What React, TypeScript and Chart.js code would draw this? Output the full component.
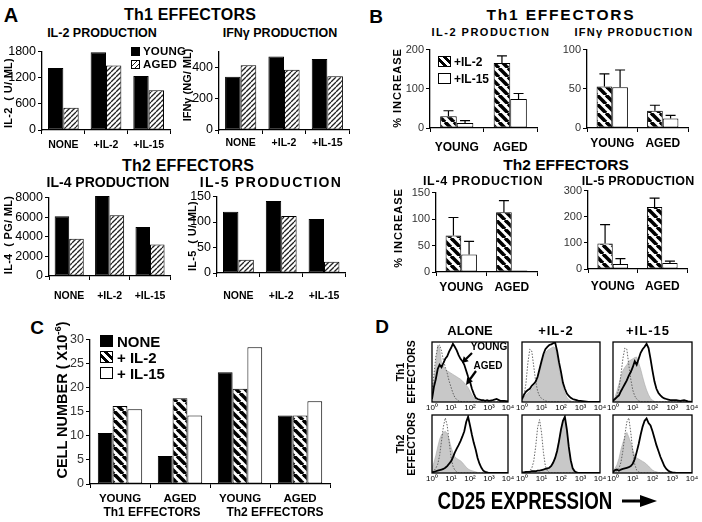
import React, { useEffect, useRef } from 'react';
import { Chart, registerables } from 'chart.js';

Chart.register(...registerables);
const FONT = '"Liberation Sans", Arial, Helvetica, sans-serif';
Chart.defaults.font.family = FONT;

// ---------------- Panel A data ----------------
const A_CATS = ['NONE', '+IL-2', '+IL-15'];
const IL2_YOUNG = [1420, 1780, 1240];
const IL2_AGED = [510, 1480, 910];
const IFN_YOUNG = [339, 468, 452];
const IFN_AGED = [413, 383, 342];
const IL4_YOUNG = [6100, 8150, 5000];
const IL4_AGED = [3800, 6200, 3200];
const IL5_YOUNG = [120, 141, 106];
const IL5_AGED = [26, 112, 22];

// ---------------- Panel B data (% increase) ----------------
const B_CATS = ['YOUNG', 'AGED'];
const B_IL2_WITH_IL2 = [30, 166];
const B_IL2_WITH_IL2_ERR = [14, 18];
const B_IL2_WITH_IL15 = [13, 74];
const B_IL2_WITH_IL15_ERR = [6, 14];
const B_IFN_WITH_IL2 = [53, 22];
const B_IFN_WITH_IL2_ERR = [16, 7];
const B_IFN_WITH_IL15 = [52, 12];
const B_IFN_WITH_IL15_ERR = [22, 4];
const B_IL4_WITH_IL2 = [69, 113];
const B_IL4_WITH_IL2_ERR = [34, 22];
const B_IL4_WITH_IL15 = [33, 3];
const B_IL4_WITH_IL15_ERR = [25, 0];
const B_IL5_WITH_IL2 = [98, 237];
const B_IL5_WITH_IL2_ERR = [72, 34];
const B_IL5_WITH_IL15 = [19, 23];
const B_IL5_WITH_IL15_ERR = [21, 7];

// ---------------- Panel C data ----------------
const C_CATS = ['YOUNG', 'AGED', 'YOUNG', 'AGED'];
const C_NONE = [10.6, 5.8, 23.2, 14.2];
const C_IL2 = [16.2, 17.8, 19.8, 14.2];
const C_IL15 = [15.5, 14.2, 28.4, 17.2];

// ---------------- Panel D data (histograms) ----------------
const D_X = [1, 1.26, 1.58, 2, 2.51, 3.16, 3.98, 5.01, 6.31, 7.94, 10, 12.6, 15.8, 20, 25.1, 31.6, 39.8, 50.1, 63.1, 79.4,
  100, 126, 158, 200, 251, 316, 398, 501, 631, 794, 1000, 1585, 2512, 3981, 6310, 10000];
const D_TICK_VALUES = [1, 10, 100, 1000, 10000];
const D_TICK_LABELS = ['10⁰', '10¹', '10²', '10³', '10⁴'];

const TH1_ALONE_CTRL = [20, 45, 75, 92, 95, 85, 70, 58, 48, 35, 25, 15, 8, 4, 2, 1, 0, 0, 0, 0, 0, 0, 0, 0, 0, 0, 0, 0, 0, 0, 0, 0, 0, 0, 0, 0];
const TH1_ALONE_AGED = [25, 35, 60, 95, 90, 65, 60, 55, 52, 50, 48, 46, 44, 42, 40, 38, 35, 32, 28, 24, 18, 12, 7, 4, 2, 1, 0, 0, 0, 0, 0, 0, 0, 0, 0, 0];
const TH1_ALONE_YOUNG = [5, 25, 38, 55, 62, 58, 65, 72, 76, 84, 90, 97, 92, 86, 78, 72, 68, 62, 52, 42, 34, 22, 14, 7, 5, 4, 3, 3, 2, 3, 2, 3, 5, 2, 2, 1];

const TH1_IL2_CTRL = [3, 10, 30, 65, 88, 85, 60, 35, 18, 10, 6, 4, 2, 1, 0, 0, 0, 0, 0, 0, 0, 0, 0, 0, 0, 0, 0, 0, 0, 0, 0, 0, 0, 0, 0, 0];
const TH1_IL2_AGED = [2, 8, 12, 15, 18, 22, 26, 30, 38, 50, 62, 74, 82, 86, 88, 90, 92, 90, 75, 55, 40, 25, 15, 8, 4, 2, 0, 0, 0, 0, 0, 0, 0, 0, 0, 0];
const TH1_IL2_YOUNG = [5, 12, 17, 20, 22, 27, 30, 34, 42, 55, 68, 80, 88, 92, 95, 96, 98, 99, 85, 66, 50, 32, 22, 14, 10, 7, 5, 4, 3, 2, 2, 1, 0, 0, 0, 0];

const TH1_IL15_CTRL = [2, 4, 10, 22, 45, 72, 90, 88, 62, 38, 20, 10, 5, 2, 0, 0, 0, 0, 0, 0, 0, 0, 0, 0, 0, 0, 0, 0, 0, 0, 0, 0, 0, 0, 0, 0];
const TH1_IL15_AGED = [3, 8, 18, 30, 42, 52, 58, 62, 68, 70, 72, 74, 75, 65, 55, 42, 30, 20, 12, 6, 3, 1, 0, 0, 0, 0, 0, 0, 0, 0, 0, 0, 0, 0, 0, 0];
const TH1_IL15_YOUNG = [2, 5, 8, 11, 18, 24, 30, 36, 44, 50, 58, 68, 62, 72, 82, 88, 92, 97, 90, 72, 52, 34, 22, 15, 11, 8, 6, 5, 4, 3, 3, 3, 2, 3, 1, 0];

const TH2_ALONE_CTRL = [2, 4, 8, 15, 30, 55, 80, 95, 82, 55, 28, 12, 5, 2, 0, 0, 0, 0, 0, 0, 0, 0, 0, 0, 0, 0, 0, 0, 0, 0, 0, 0, 0, 0, 0, 0];
const TH2_ALONE_AGED = [8, 18, 30, 45, 58, 66, 70, 72, 68, 58, 45, 35, 28, 25, 23, 21, 18, 14, 10, 7, 5, 4, 3, 2, 1, 0, 0, 0, 0, 0, 0, 0, 0, 0, 0, 0];
const TH2_ALONE_YOUNG = [1, 2, 3, 4, 5, 6, 7, 9, 12, 16, 20, 27, 35, 42, 48, 55, 63, 72, 88, 97, 82, 66, 52, 40, 26, 16, 9, 4, 2, 1, 0, 0, 0, 0, 0, 0];

const TH2_IL2_CTRL = [0, 0, 1, 2, 4, 8, 20, 45, 78, 92, 70, 35, 12, 4, 1, 0, 0, 0, 0, 0, 0, 0, 0, 0, 0, 0, 0, 0, 0, 0, 0, 0, 0, 0, 0, 0];
const TH2_IL2_AGED = [0, 0, 0, 0, 0, 0, 0, 0, 0, 1, 2, 3, 4, 6, 8, 10, 16, 26, 40, 58, 75, 88, 92, 72, 45, 22, 9, 3, 1, 0, 0, 0, 0, 0, 0, 0];
const TH2_IL2_YOUNG = [1, 1, 2, 2, 2, 3, 3, 3, 4, 4, 5, 6, 7, 8, 9, 12, 18, 26, 38, 55, 75, 90, 97, 75, 45, 22, 8, 3, 1, 0, 0, 0, 0, 0, 0, 0];

const TH2_IL15_CTRL = [1, 2, 4, 8, 18, 38, 65, 88, 95, 70, 38, 15, 5, 2, 0, 0, 0, 0, 0, 0, 0, 0, 0, 0, 0, 0, 0, 0, 0, 0, 0, 0, 0, 0, 0, 0];
const TH2_IL15_AGED = [3, 8, 14, 25, 40, 52, 62, 70, 62, 52, 40, 30, 26, 24, 22, 20, 18, 15, 12, 8, 5, 3, 2, 1, 0, 0, 0, 0, 0, 0, 0, 0, 0, 0, 0, 0];
const TH2_IL15_YOUNG = [2, 5, 6, 4, 6, 7, 8, 9, 10, 12, 16, 24, 36, 50, 66, 80, 90, 94, 86, 82, 72, 60, 48, 38, 28, 20, 12, 7, 4, 2, 1, 0, 0, 0, 0, 0];

// ---------------- helpers ----------------
function hatch(size: number, width: number, dir: 'back' | 'fwd', color: string): CanvasPattern {
  const c = document.createElement('canvas');
  c.width = size;
  c.height = size;
  const g = c.getContext('2d')!;
  g.fillStyle = '#fff';
  g.fillRect(0, 0, size, size);
  g.strokeStyle = color;
  g.lineWidth = width;
  for (let k = -1; k <= 1; k++) {
    g.beginPath();
    if (dir === 'back') {
      g.moveTo(k * size, 0);
      g.lineTo(k * size + size, size);
    } else {
      g.moveTo(k * size, size);
      g.lineTo(k * size + size, 0);
    }
    g.stroke();
  }
  return g.createPattern(c, 'repeat')!;
}
let _pats: { thin: CanvasPattern; thick: CanvasPattern } | null = null;
function pats() {
  if (!_pats) _pats = { thin: hatch(5, 1.3, 'fwd', '#222'), thick: hatch(9, 3.6, 'back', '#000') };
  return _pats;
}

const errorBars = {
  id: 'errorBars',
  afterDatasetsDraw(chart: any) {
    const ctx = chart.ctx;
    const y = chart.scales.y;
    chart.data.datasets.forEach((ds: any, di: number) => {
      if (!ds.errors) return;
      const meta = chart.getDatasetMeta(di);
      meta.data.forEach((el: any, i: number) => {
        const e = ds.errors[i];
        if (!e) return;
        const top = y.getPixelForValue(ds.data[i] + e);
        ctx.save();
        ctx.strokeStyle = '#000';
        ctx.lineWidth = 1.2;
        ctx.beginPath();
        ctx.moveTo(el.x, el.y);
        ctx.lineTo(el.x, top);
        ctx.moveTo(el.x - 5, top);
        ctx.lineTo(el.x + 5, top);
        ctx.stroke();
        ctx.restore();
      });
    });
  },
};

const frame = {
  id: 'frame',
  afterDatasetsDraw(chart: any) {
    const { left, top, right, bottom } = chart.chartArea;
    const ctx = chart.ctx;
    ctx.save();
    ctx.strokeStyle = '#000';
    ctx.lineWidth = 1.3;
    ctx.strokeRect(left, top, right - left, bottom - top);
    ctx.restore();
  },
};

type Box = { l: number; t: number; r: number; b: number; yw: number; xh: number; pt?: number; pr?: number; pl?: number };

function ChartBox({ box, make }: { box: Box; make: (b: Box) => any }) {
  const ref = useRef<HTMLCanvasElement>(null);
  const pt = box.pt ?? 8;
  const pr = box.pr ?? 4;
  const pl = box.pl ?? 0;
  const w = pl + box.yw + (box.r - box.l) + pr;
  const h = pt + (box.b - box.t) + box.xh;
  useEffect(() => {
    const cfg = make(box);
    cfg.options.layout = { padding: { top: pt, right: pr, left: pl, bottom: 0 } };
    const chart = new Chart(ref.current!, cfg);
    return () => chart.destroy();
  }, []);
  return (
    <canvas
      ref={ref}
      width={w}
      height={h}
      style={{ position: 'absolute', left: box.l - box.yw - pl, top: box.t - pt, width: w, height: h }}
    />
  );
}

type BarOpts = { labels: string[]; sets: any[]; max: number; step: number; ySize: number; yColor: string; xSize: number; xPad: number; cat: number };
function barConfig(o: BarOpts, box: Box) {
  return {
    type: 'bar',
    data: {
      labels: o.labels,
      datasets: o.sets.map((s) => ({
        borderColor: '#000',
        borderWidth: 1,
        borderSkipped: false,
        barPercentage: 1,
        categoryPercentage: o.cat,
        clip: false,
        ...s,
      })),
    },
    options: {
      responsive: false,
      animation: false,
      events: [],
      plugins: { legend: { display: false }, tooltip: { enabled: false } },
      scales: {
        x: {
          offset: true,
          grid: { display: true, drawOnChartArea: false, offset: true, tickLength: 4, color: '#000', lineWidth: 1 },
          border: { display: true, color: '#000', width: 1.3 },
          ticks: { color: '#000', font: { size: o.xSize, weight: 'bold' }, padding: o.xPad, maxRotation: 0, autoSkip: false },
          afterFit: (s: any) => { s.height = box.xh; },
        },
        y: {
          min: 0,
          max: o.max,
          grid: { drawOnChartArea: false, tickLength: 4, color: '#000', lineWidth: 1 },
          border: { display: true, color: '#000', width: 1.3 },
          ticks: { stepSize: o.step, color: o.yColor, font: { size: o.ySize }, padding: 2, callback: (v: any) => String(v) },
          afterFit: (s: any) => { s.width = box.yw; },
        },
      },
    },
    plugins: [errorBars],
  };
}

function histConfig(ctrl: number[], aged: number[], young: number[], box: Box) {
  const pts = (a: number[]) => D_X.map((x, i) => ({ x, y: a[i] }));
  return {
    type: 'line',
    data: {
      datasets: [
        { data: pts(young), borderColor: '#000', borderWidth: 1.8, pointRadius: 0, fill: false, order: 1 },
        { data: pts(ctrl), borderColor: '#555', borderWidth: 0.9, borderDash: [1.5, 1.5], pointRadius: 0, fill: false, order: 2 },
        { data: pts(aged), borderColor: '#aaa', borderWidth: 0.6, backgroundColor: '#c8c8c8', pointRadius: 0, fill: 'origin', order: 3 },
      ],
    },
    options: {
      responsive: false,
      animation: false,
      events: [],
      plugins: { legend: { display: false }, tooltip: { enabled: false } },
      scales: {
        x: {
          type: 'logarithmic',
          min: 1,
          max: 10000,
          grid: { display: false, drawTicks: false },
          border: { display: false },
          afterBuildTicks: (s: any) => { s.ticks = D_TICK_VALUES.map((v) => ({ value: v })); },
          ticks: { autoSkip: false, maxRotation: 0, padding: 1, color: '#000', font: { size: 8 }, callback: (_v: any, i: number) => D_TICK_LABELS[i] },
          afterFit: (s: any) => { s.height = box.xh; },
        },
        y: { display: false, min: 0, max: 100 },
      },
    },
    plugins: [frame],
  };
}

type TP = { x: number; y: number; s: number; w?: number; ls?: number; rot?: number; sx?: number; left?: boolean; lh?: number; children: React.ReactNode };
function T({ x, y, s, w = 700, ls = 0, rot = 0, sx = 1, left = false, lh = 1, children }: TP) {
  const tr = left ? 'translate(0,-50%)' : `translate(-50%,-50%) rotate(${rot}deg) scaleX(${sx})`;
  return (
    <div style={{ position: 'absolute', left: x, top: y, transform: tr, fontSize: s, fontWeight: w, letterSpacing: ls, whiteSpace: 'pre', lineHeight: lh, color: '#000', textAlign: 'center' }}>
      {children}
    </div>
  );
}

function Sw({ x, y, w, h, bg }: { x: number; y: number; w: number; h: number; bg: string }) {
  return <div style={{ position: 'absolute', left: x, top: y, width: w, height: h, boxSizing: 'border-box', border: '1px solid #000', background: bg }} />;
}

function head(x1: number, y1: number, x2: number, y2: number, len: number, half: number) {
  const dx = x2 - x1, dy = y2 - y1;
  const d = Math.hypot(dx, dy);
  const ux = dx / d, uy = dy / d;
  const bx = x2 - ux * len, by = y2 - uy * len;
  return `${x2},${y2} ${bx - uy * half},${by + ux * half} ${bx + uy * half},${by - ux * half}`;
}

const THIN_CSS = 'repeating-linear-gradient(-45deg, #fff 0px, #fff 2.2px, #222 2.2px, #222 3.5px)';
const THICK_CSS = 'repeating-linear-gradient(45deg, #fff 0px, #fff 3px, #000 3px, #000 6px)';

export default function App() {
  const aBars = (young: number[], aged: number[]) => [
    { data: young, backgroundColor: '#000' },
    { data: aged, backgroundColor: pats().thin },
  ];
  const bBars = (a: number[], ae: number[], b: number[], be: number[]) => [
    { data: a, errors: ae, backgroundColor: pats().thick },
    { data: b, errors: be, backgroundColor: '#fff' },
  ];
  const D_ROW1 = { t: 342, b: 402 };
  const D_ROW2 = { t: 415, b: 473 };
  const D_COLS = [{ l: 432, r: 508 }, { l: 522, r: 600 }, { l: 613, r: 692 }];
  const dBox = (c: { l: number; r: number }, rw: { t: number; b: number }): Box => ({ ...c, ...rw, yw: 0, xh: 12, pl: 10, pr: 10, pt: 2 });

  return (
    <div style={{ position: 'absolute', left: 0, top: 0, width: 702, height: 522, background: '#fff', overflow: 'hidden', fontFamily: FONT }}>
      {/* Panel A */}
      <ChartBox box={{ l: 42, t: 50, r: 170, b: 130, yw: 36, xh: 26 }} make={(bx) => barConfig({ labels: A_CATS, sets: aBars(IL2_YOUNG, IL2_AGED), max: 1800, step: 600, ySize: 12.5, yColor: '#000', xSize: 10.5, xPad: 5, cat: 0.72 }, bx)} />
      <ChartBox box={{ l: 219, t: 50, r: 349, b: 130, yw: 28, xh: 26 }} make={(bx) => barConfig({ labels: A_CATS, sets: aBars(IFN_YOUNG, IFN_AGED), max: 500, step: 100, ySize: 12.5, yColor: '#000', xSize: 10.5, xPad: 3, cat: 0.72 }, bx)} />
      <ChartBox box={{ l: 49, t: 196, r: 172, b: 276, yw: 42, xh: 30 }} make={(bx) => barConfig({ labels: A_CATS, sets: aBars(IL4_YOUNG, IL4_AGED), max: 8000, step: 2000, ySize: 12.5, yColor: '#000', xSize: 10.5, xPad: 10, cat: 0.72 }, bx)} />
      <ChartBox box={{ l: 217, t: 195, r: 349, b: 273, yw: 28, xh: 30 }} make={(bx) => barConfig({ labels: A_CATS, sets: aBars(IL5_YOUNG, IL5_AGED), max: 150, step: 50, ySize: 12.5, yColor: '#000', xSize: 10.5, xPad: 13, cat: 0.72 }, bx)} />

      {/* Panel B */}
      <ChartBox box={{ l: 430, t: 49, r: 537, b: 128, yw: 30, xh: 28 }} make={(bx) => barConfig({ labels: B_CATS, sets: bBars(B_IL2_WITH_IL2, B_IL2_WITH_IL2_ERR, B_IL2_WITH_IL15, B_IL2_WITH_IL15_ERR), max: 200, step: 100, ySize: 11, yColor: '#333', xSize: 12, xPad: 8, cat: 0.62 }, bx)} />
      <ChartBox box={{ l: 587, t: 49, r: 688, b: 128, yw: 26, xh: 28 }} make={(bx) => barConfig({ labels: B_CATS, sets: bBars(B_IFN_WITH_IL2, B_IFN_WITH_IL2_ERR, B_IFN_WITH_IL15, B_IFN_WITH_IL15_ERR), max: 100, step: 50, ySize: 11, yColor: '#333', xSize: 12, xPad: 4, cat: 0.62 }, bx)} />
      <ChartBox box={{ l: 436, t: 192, r: 537, b: 272, yw: 30, xh: 28 }} make={(bx) => barConfig({ labels: B_CATS, sets: bBars(B_IL4_WITH_IL2, B_IL4_WITH_IL2_ERR, B_IL4_WITH_IL15, B_IL4_WITH_IL15_ERR), max: 150, step: 50, ySize: 11, yColor: '#333', xSize: 12, xPad: 4, cat: 0.62 }, bx)} />
      <ChartBox box={{ l: 588, t: 190, r: 687, b: 269, yw: 30, xh: 28 }} make={(bx) => barConfig({ labels: B_CATS, sets: bBars(B_IL5_WITH_IL2, B_IL5_WITH_IL2_ERR, B_IL5_WITH_IL15, B_IL5_WITH_IL15_ERR), max: 300, step: 100, ySize: 11, yColor: '#333', xSize: 12, xPad: 6, cat: 0.62 }, bx)} />

      {/* Panel C */}
      <ChartBox box={{ l: 90, t: 338, r: 330, b: 484, yw: 30, xh: 26 }} make={(bx) => barConfig({ labels: C_CATS, sets: [
        { data: C_NONE, backgroundColor: '#000' },
        { data: C_IL2, backgroundColor: pats().thick },
        { data: C_IL15, backgroundColor: '#fff' },
      ], max: 30, step: 5, ySize: 12.5, yColor: '#333', xSize: 11.5, xPad: 4, cat: 0.74 }, bx)} />

      {/* Panel D */}
      <ChartBox box={dBox(D_COLS[0], D_ROW1)} make={(bx) => histConfig(TH1_ALONE_CTRL, TH1_ALONE_AGED, TH1_ALONE_YOUNG, bx)} />
      <ChartBox box={dBox(D_COLS[1], D_ROW1)} make={(bx) => histConfig(TH1_IL2_CTRL, TH1_IL2_AGED, TH1_IL2_YOUNG, bx)} />
      <ChartBox box={dBox(D_COLS[2], D_ROW1)} make={(bx) => histConfig(TH1_IL15_CTRL, TH1_IL15_AGED, TH1_IL15_YOUNG, bx)} />
      <ChartBox box={dBox(D_COLS[0], D_ROW2)} make={(bx) => histConfig(TH2_ALONE_CTRL, TH2_ALONE_AGED, TH2_ALONE_YOUNG, bx)} />
      <ChartBox box={dBox(D_COLS[1], D_ROW2)} make={(bx) => histConfig(TH2_IL2_CTRL, TH2_IL2_AGED, TH2_IL2_YOUNG, bx)} />
      <ChartBox box={dBox(D_COLS[2], D_ROW2)} make={(bx) => histConfig(TH2_IL15_CTRL, TH2_IL15_AGED, TH2_IL15_YOUNG, bx)} />

      {/* Panel letters */}
      <T x={11} y={15} s={20}>A</T>
      <T x={376} y={16} s={19}>B</T>
      <T x={37} y={327} s={19}>C</T>
      <T x={382} y={326} s={19}>D</T>

      {/* A texts */}
      <T x={190} y={15} s={16} ls={0.2}>Th1 EFFECTORS</T>
      <T x={102} y={33} s={12.5}>IL-2 PRODUCTION</T>
      <T x={280} y={33} s={12.5}>IFNγ PRODUCTION</T>
      <T x={188} y={166} s={16} ls={0.2}>Th2 EFFECTORS</T>
      <T x={108} y={182} s={14}>IL-4 PRODUCTION</T>
      <T x={271} y={182} s={14} ls={1.3}>IL-5 PRODUCTION</T>
      <T x={8} y={93} s={11} rot={-90} ls={0.3}>IL-2  ( U/ ML)</T>
      <T x={187} y={85} s={11} rot={-90}>IFNγ (NG/ ML)</T>
      <T x={8} y={235} s={11} rot={-90} ls={0.3}>IL-4  ( PG/ ML)</T>
      <T x={192} y={236} s={11} rot={-90} ls={0.3}>IL-5  ( U/ ML)</T>
      <Sw x={131} y={47} w={9} h={9} bg="#000" />
      <T x={143} y={51.5} s={11.5} left ls={0.2}>YOUNG</T>
      <Sw x={131} y={60} w={9} h={9} bg={THIN_CSS} />
      <T x={143} y={64.5} s={11.5} left ls={0.2}>AGED</T>

      {/* B texts */}
      <T x={561} y={15} s={15.5} ls={1.8}>Th1 EFFECTORS</T>
      <T x={491} y={32} s={11} ls={1.5}>IL-2 PRODUCTION</T>
      <T x={634} y={32} s={11} ls={1.2}>IFNγ PRODUCTION</T>
      <T x={566} y={165} s={15.5}>Th2 EFFECTORS</T>
      <T x={483} y={181} s={12.5} ls={0.7}>IL-4 PRODUCTION</T>
      <T x={638} y={181} s={12.5} ls={0.2}>IL-5 PRODUCTION</T>
      <T x={397} y={88} s={11} rot={-90} ls={1}>% INCREASE</T>
      <T x={398} y={228} s={11} rot={-90} ls={1}>% INCREASE</T>
      <Sw x={438} y={56} w={13} h={11} bg={THICK_CSS} />
      <T x={454} y={61.5} s={12} left>+IL-2</T>
      <Sw x={438} y={73} w={13} h={11} bg="#fff" />
      <T x={454} y={78.5} s={12} left>+IL-15</T>

      {/* C texts */}
      <T x={61} y={400} s={14.5} rot={-90}>
        CELL NUMBER ( X10<span style={{ fontSize: '0.65em', verticalAlign: 'super' }}>-6</span>)
      </T>
      <Sw x={100} y={335} w={13} h={12} bg="#000" />
      <T x={117} y={341} s={15} left>NONE</T>
      <Sw x={100} y={351} w={13} h={12} bg={THICK_CSS} />
      <T x={117} y={357} s={15} left>+ IL-2</T>
      <Sw x={100} y={367} w={13} h={12} bg="#fff" />
      <T x={117} y={373} s={15} left>+ IL-15</T>
      <T x={152} y={512} s={12}>Th1 EFFECTORS</T>
      <T x={275} y={512} s={12}>Th2 EFFECTORS</T>

      {/* D texts */}
      <T x={470} y={330} s={13}>ALONE</T>
      <T x={556} y={330} s={13} ls={1}>+IL-2</T>
      <T x={648} y={330} s={13} ls={1}>+IL-15</T>
      <T x={406} y={372} s={10.5} rot={-90} lh={1.05}>{'Th1\nEFFECTORS'}</T>
      <T x={406} y={444} s={10.5} rot={-90} lh={1.05}>{'Th2\nEFFECTORS'}</T>
      <T x={489} y={347} s={10}>YOUNG</T>
      <T x={488} y={366} s={10}>AGED</T>
      <T x={525} y={501} s={24} sx={0.78}>CD25 EXPRESSION</T>

      <svg width={702} height={522} style={{ position: 'absolute', left: 0, top: 0, pointerEvents: 'none' }}>
        <line x1={472} y1={353} x2={466} y2={359} stroke="#000" strokeWidth={2.2} />
        <polygon points={head(472, 353, 462, 363, 6, 3.5)} fill="#000" />
        <line x1={476} y1={371} x2={469.5} y2={380} stroke="#000" strokeWidth={2.2} />
        <polygon points={head(476, 371, 466, 385, 7, 3.5)} fill="#000" />
        <line x1={622} y1={501} x2={643} y2={501} stroke="#000" strokeWidth={3} />
        <polygon points="640,495 657,501 640,507" fill="#000" />
      </svg>
    </div>
  );
}
